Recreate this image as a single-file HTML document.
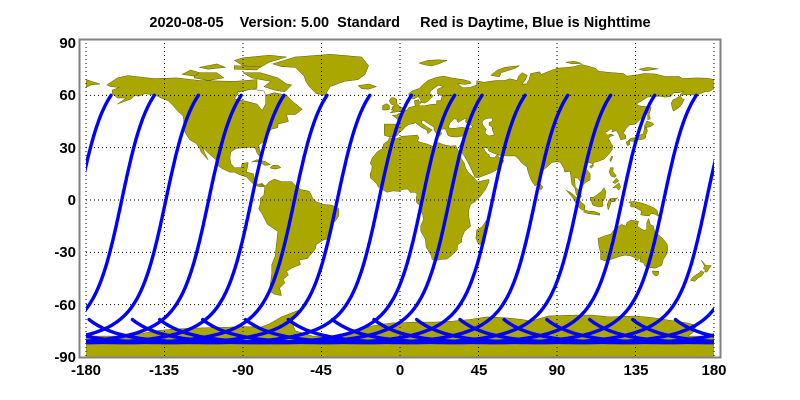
<!DOCTYPE html>
<html><head><meta charset="utf-8"><style>
html,body{margin:0;padding:0;background:#fff;}
svg{display:block;}
text{font-family:"Liberation Sans",Arial,sans-serif;font-weight:bold;fill:#000;}
</style></head><body>
<svg id="s" width="800" height="400" viewBox="0 0 800 400" xmlns="http://www.w3.org/2000/svg">
<defs><clipPath id="cp"><rect x="86" y="43" width="628" height="314"/></clipPath></defs>
<g id="land" clip-path="url(#cp)"></g>
<g id="grid"></g>
<g id="tracks" clip-path="url(#cp)"></g>
<rect x="79.5" y="39.5" width="641" height="318" fill="none" stroke="#808080" stroke-width="2"/>
<text x="400" y="27" font-size="14.5" text-anchor="middle" xml:space="preserve">2020-08-05    Version: 5.00  Standard     Red is Daytime, Blue is Nighttime</text>
<g font-size="15" text-anchor="end">
<text x="76" y="48">90</text><text x="76" y="100">60</text><text x="76" y="153">30</text><text x="76" y="205">0</text>
<text x="76" y="257">-30</text><text x="76" y="310">-60</text><text x="76" y="362">-90</text>
</g>
<g font-size="15" text-anchor="middle">
<text x="86" y="375">-180</text><text x="164" y="375">-135</text><text x="243" y="375">-90</text><text x="321" y="375">-45</text>
<text x="400" y="375">0</text><text x="479" y="375">45</text><text x="557" y="375">90</text><text x="636" y="375">135</text><text x="714" y="375">180</text>
</g>
</svg>
<script>
var K=1.7444;function X(l){return 400+l*K}function Y(a){return 200-a*K}
var P=[
[[-168,66],[-162,70],[-156,71.3],[-141,69.6],[-128,70],[-115,68.5],[-95,68],[-82,69],[-82,64],[-93,62],[-94,58],[-88,56.5],[-82,55],[-79,51.5],[-77,55],[-77,60],[-72,61.5],[-65,60],[-61,56],[-56,52],[-60,49],[-65,49],[-64,45],[-70,43.5],[-70,41.5],[-74,40.5],[-76,37],[-76,35],[-81,31.5],[-80,27],[-80.5,25],[-82,27],[-83,29.8],[-86,30.3],[-89,30],[-94,29.6],[-97,27.5],[-97.5,24],[-97,21],[-95,18.5],[-91,18.5],[-90.5,21],[-87,21.5],[-88,16],[-84,15],[-83.5,11],[-81.5,9],[-79,9.5],[-77.5,8],[-80,7.5],[-83,8.3],[-86,11],[-88,13.3],[-92,14.5],[-95,16],[-97.5,16],[-102,18],[-105.5,20.5],[-105.5,23],[-109,26],[-112.5,29.5],[-114.5,31.5],[-113,30],[-112,27],[-110,23],[-111,24],[-114,27.5],[-115,30],[-117,32.5],[-120.5,34.5],[-122.5,37.5],[-124,40.5],[-124,46],[-124.5,48.5],[-127,50.5],[-130,54],[-133,57],[-137,58.5],[-140,60],[-146,61],[-150,59.5],[-152,60],[-154,58],[-158,56.5],[-162,55],[-159,57],[-157,58.5],[-162,58.5],[-165,61],[-165,63],[-161,64.5],[-166,65]],
[[-73,78],[-60,82],[-40,83.5],[-22,82],[-18,77],[-20,72],[-24,69],[-32,68],[-40,65],[-43,60],[-48,61],[-52,65],[-54,68],[-55,71],[-60,76],[-68,76.5]],
[[-80,73],[-70,70],[-65,66.5],[-62,66],[-66,62],[-72,63],[-78,65],[-74,68],[-85,70],[-90,73]],
[[-118,73],[-105,73],[-101,70],[-110,68.5],[-118,70]],
[[-90,77],[-80,76],[-75,79],[-65,82],[-75,83],[-90,81.5],[-95,80]],
[[-125,72],[-120,74.5],[-115,73],[-118,71]],
[[-95,75],[-82,74.5],[-80,76.5],[-95,77]],
[[-115,76],[-105,78],[-100,76],[-110,75]],
[[-24,65.5],[-18,66.5],[-13.5,65],[-18,63.5],[-22,63.8]],
[[-80,9],[-77,8],[-75,10.5],[-72,12],[-68,10.5],[-62,10.5],[-60,8.5],[-57,6],[-52,5],[-50,1],[-48,-1],[-44,-2.5],[-39,-3],[-35,-5],[-35,-9],[-37,-12],[-39,-14],[-39,-18],[-41,-22],[-44,-23],[-48,-25.5],[-48.5,-28],[-50,-30],[-53,-33.5],[-58,-34.5],[-57,-37],[-62,-39],[-65,-41],[-64,-43],[-67,-45.5],[-66,-47.5],[-69,-50.5],[-68.5,-52.5],[-68,-54.8],[-72,-54],[-75,-52],[-74,-46],[-73.5,-42],[-73.5,-37],[-71.5,-32],[-71,-27],[-70,-18],[-76,-14],[-79,-8],[-81,-5],[-80,-2],[-80,1],[-78,3],[-77.5,7]],
[[-9,43.5],[-9,38.7],[-8.9,37],[-6,36.2],[-2,36.7],[0,38.8],[3.2,42],[5,43.3],[7.5,43.8],[9,44.3],[10.5,43],[12.5,41.5],[15.5,40],[16,38],[17,39],[18.5,40.2],[16,41.5],[12.5,44],[12.5,45.5],[13.7,45.6],[15,44.5],[19.5,41.8],[19.5,40],[21,38],[22.5,36.5],[24,38],[23,39.5],[22.8,40.5],[26,40.8],[26.3,40],[27.5,37],[28.5,36.6],[30.5,36.2],[33,36.2],[36,36.8],[36,35],[35,33],[34.5,31.5],[34,31],[34.8,29.5],[35,28],[37,25],[39,21.5],[41,17.5],[43,13],[45,12.8],[48,14],[52,15.5],[55,17],[57,18.8],[59.5,22.5],[58,24],[56.5,24.5],[56,26.2],[54,24.2],[51.5,24.5],[51,26],[50,26.5],[48.5,28.5],[48,30],[50,30],[51,28],[54,26.7],[57,25.7],[61,25.2],[66,25.3],[67.5,24],[70,21],[72.8,19],[73.5,16],[74.5,13],[76,10],[77.5,8],[78.2,8.9],[80,10.5],[80,15.5],[82,17],[85,19.5],[87,21.5],[90,22],[92,21.5],[94,18],[94.5,16],[97.5,16.5],[98,13],[98.5,9],[100.5,6.5],[101,3],[103.5,1.3],[104,2],[103,5],[100.5,7.5],[100,13],[102,12.5],[103.5,10.5],[105,8.7],[106.8,10.4],[109,11.5],[109,15],[106.5,18],[106,20],[108,21.5],[110,21],[110.5,20],[111,21.5],[114,22.3],[117,23.5],[119.5,26],[121.5,28.5],[122,31],[121,32.5],[120,34.5],[119.3,35],[120.7,36.5],[122.5,37],[121,37.8],[119,37.2],[118,38.2],[117.5,38.8],[119,39.3],[121,40.8],[122,40],[121.3,39],[124,39.8],[125.3,37.7],[126.5,34.5],[129.3,35.2],[129.5,37],[128,38.5],[129.7,41],[131.5,43],[135,43.5],[138,46.5],[140.5,48.5],[141,52],[141.5,53.5],[137,54],[135.5,55],[138,56.5],[142,59],[145,59.4],[149,59.5],[152,59],[155,59.3],[157,61.5],[160,61.5],[163,62.4],[160.5,60.5],[161.5,58.2],[163,57.6],[162,56],[161.7,55],[160,53],[158.5,52],[156.7,51],[156,53],[155.5,55.5],[156.5,57.5],[158,58],[161,60],[165,60.5],[170,60],[174,61.8],[178,62.5],[181,64.5],[181,68.9],[176,69.8],[170,70],[162,69.6],[160,70.8],[152,70.8],[146,72.3],[140,72.5],[135,71.6],[130,71],[128,72.5],[122,73],[114,73.7],[112,75.5],[108,76.7],[104,77.7],[100,76.5],[96,76],[90,75.5],[86,74],[81,72],[80,73.5],[75,72.5],[74,69],[72.5,66.5],[70,66.5],[72,69],[73,71.5],[70,73],[68,71],[67,68.5],[63,69.5],[60,68.5],[55,68.5],[48,67.5],[44,68.4],[44,66],[40,64.5],[36,64.3],[34.5,65.5],[33,66.8],[37,66.2],[41,67],[40,68],[36,69.1],[33,69.4],[29,70.1],[25,71],[20,70],[16,68.5],[13,66],[11,64],[7,62.5],[5,61],[5.5,58.5],[8,58],[10.5,59.3],[11.2,58.3],[12.5,56.2],[10.9,56.4],[10.5,57.6],[8.2,56.8],[8.6,55],[8.7,53.9],[7,53.4],[5,53],[4,51.6],[2,51],[1.5,50],[-1,49.5],[-1.5,48.7],[-4.5,48.6],[-2.5,47.3],[-1.2,46],[-1.5,43.5]],
[[-180,64.5],[-177,66],[-172,66.5],[-175,67.5],[-180,69]],
[[-5,50],[1.5,51.2],[1.7,52.7],[0,53.5],[-1.5,55],[-2,56],[-1.8,57.6],[-3.5,58.6],[-5,58.6],[-6.2,57],[-5.5,55.5],[-4.8,54.8],[-3,54],[-4.5,53.3],[-4.5,52],[-5.3,51.7],[-3.5,51.4],[-5.7,50]],
[[-6,52],[-6,54],[-7.5,55.2],[-10,54.2],[-10,51.6],[-8,51.6]],
[[-17,21],[-16,24],[-13,27.7],[-10,29.5],[-9.5,32],[-6.8,34],[-6,35.8],[-2,35.1],[1,36.5],[5,36.8],[10,37.2],[11,35.5],[10,34],[11.5,33.1],[15,32.3],[19.5,30.5],[20,32],[22,32.9],[25,31.7],[29,30.9],[32,31.2],[32.5,30],[33.5,28],[35,24],[37,21],[37.5,18.5],[39,16],[42.5,12.8],[43.3,11.7],[44.5,10.4],[51,11.8],[51,10.4],[49,6],[46,2],[43,-1],[40.5,-2.5],[39.3,-6],[39.5,-10],[40.5,-15],[37,-18],[35.3,-22],[35.5,-24],[33,-25.8],[32.8,-28.5],[30.5,-31],[27,-33.8],[24,-34],[20,-34.8],[18.4,-34],[18,-32],[15,-27],[14.5,-22.5],[12,-18],[11.8,-15],[13.5,-11],[13,-8.5],[12,-6],[12.3,-4],[9.5,-1.5],[9.3,1],[9.8,3.5],[8.5,4.5],[6,4.3],[4.5,6.3],[2,6.2],[-1,5],[-4,5.2],[-7.5,4.4],[-10,6],[-12.5,7.5],[-13.5,9.5],[-15,11],[-16.8,12.5],[-17.2,14.7],[-16.3,17],[-16,19.5]],
[[49.3,-12],[50.5,-15.5],[49.5,-17],[47.2,-25],[45,-25.5],[43.5,-22],[44,-17],[47,-15.5]],
[[80,9.8],[81.8,7.5],[81.3,6.2],[80,6.1],[79.8,8]],
[[130.9,34],[132.5,35.5],[136,35.7],[137,37],[139.5,38],[140,40.5],[140,41.5],[141.5,41.2],[141.8,39.5],[141,37.5],[140.8,35.7],[139.8,35],[138.5,34.7],[137,34.6],[135,33.5],[132,33.8]],
[[129.6,33.3],[131.5,34],[131.8,32],[130.6,31],[130,32]],
[[140,42],[141.5,45.3],[145,44],[145.5,43.3],[143.5,42],[141,41.5]],
[[142,46],[143.5,46.5],[142.8,49],[144,53],[143,54.3],[142,54],[142,51],[142,48]],
[[120.2,23],[121.5,25.2],[122,24.9],[120.8,22]],
[[108.7,19.3],[110.5,20.1],[111,19.6],[109.5,18.2]],
[[120,16],[120.6,18.5],[122.3,18.5],[122,16.5],[124,13.8],[123,13],[121,13.7],[120.6,14.5]],
[[122,7],[125.5,9.8],[126.5,7.3],[125.3,5.6],[124,7.2]],
[[122,10],[124,12.5],[125.5,11],[123.5,9.5]],
[[109,1.5],[110,-1.5],[110.5,-3],[114,-4],[116.5,-3.5],[116,-1],[117.5,1],[118,4.8],[117,7],[115.5,5],[113,3],[111,1.6]],
[[95.3,5.6],[98,4.2],[100.5,2],[103.7,-1],[106,-3],[105.8,-5.8],[104.5,-5.8],[102.3,-4],[100.5,-1.2],[98.7,1.7],[97,3.6]],
[[105.2,-6.8],[106,-5.9],[108.5,-6.4],[111,-6.5],[114.5,-7.7],[114.4,-8.7],[111,-8.2],[108,-7.8],[106.5,-7.4]],
[[119.5,-5.5],[120.5,-2.8],[121,-1],[123.2,-0.9],[124,0.5],[125,1.4],[124,1],[120.5,0.8],[119.8,0],[118.8,-2.6],[119.3,-5.4]],
[[131,-1.2],[134,-0.8],[138,-1.6],[141,-2.6],[145.5,-4.5],[147.5,-6],[147.8,-8],[150,-10.3],[146,-8.1],[144,-7.7],[143,-9],[141,-9.1],[138,-8.4],[138.5,-6.5],[134.5,-4],[132.5,-4],[132,-2.8],[133,-2.2],[131.3,-1.5]],
[[113.5,-22],[114,-26.5],[115,-30],[115,-34],[118,-35],[121.5,-33.9],[124,-33],[126,-32.3],[129,-31.6],[132,-32],[134.5,-33],[136,-34.8],[137.8,-33],[137.5,-35.5],[139.5,-35.8],[140.5,-38],[143.5,-38.8],[146.3,-39.1],[150,-37.5],[151,-34],[153,-31],[153.5,-28],[153,-25],[150.8,-22.5],[149,-20.5],[146,-18.5],[145.3,-15],[143.5,-14],[142.5,-10.7],[141.5,-13],[141.4,-16.5],[140.5,-17.6],[139,-17],[136,-15],[136.8,-12.2],[132.5,-11.5],[130,-13],[129.5,-15],[127,-14],[125,-15.5],[122.3,-17.5],[121,-19.5],[117,-20.7],[114.5,-21.8]],
[[144.6,-40.7],[148.3,-40.9],[148,-43],[146.5,-43.6],[145,-42.2]],
[[172.7,-34.5],[174.5,-36.5],[175.5,-37.5],[178.5,-37.7],[177,-39.5],[176,-41.3],[174.6,-41.3],[175,-40],[173.8,-39.2],[174.6,-38],[173,-35]],
[[172.7,-40.5],[174.3,-41.7],[173,-43.5],[171,-44.5],[169,-46.6],[166.5,-46],[168,-44],[171.5,-41.8]],
[[-85,21.8],[-82,23.1],[-77,22],[-74.2,20.2],[-77.7,19.9],[-80.5,21.8],[-84,21.9]],
[[-74.5,18.5],[-72.8,19.9],[-69.5,19.7],[-68.4,18.5],[-71.5,17.7],[-74.3,18.3]],
[[52,71.5],[56,74.5],[60,76],[68.5,77],[66,75.5],[58,73],[57,70.6]],
[[11,78.5],[16,80],[22,80.4],[27,80],[22,78],[18,76.8],[14,77.5]],
[[95,79],[100,79.5],[104,78.3],[99,78]],
[[137,75],[142,76],[148,75.2],[140,74]],
[[-180,-78],[-160,-78],[-150,-77],[-140,-75],[-130,-74],[-120,-73.5],[-100,-73],[-90,-72.5],[-80,-73],[-75,-71],[-68,-67],[-58,-63.2],[-60,-66],[-62,-70],[-60,-75],[-50,-78],[-40,-78],[-35,-77],[-25,-75],[-15,-72],[-5,-70.5],[10,-70],[20,-70],[30,-69.5],[40,-68.5],[50,-67],[60,-67.5],[70,-68.5],[75,-69.5],[85,-66.5],[100,-66],[110,-66],[120,-67],[135,-66.5],[145,-67.5],[155,-69],[165,-70.5],[170,-72],[168,-76],[165,-78],[181,-78],[181,-91],[-181,-91]]
];
var W=[
[[10.8,54],[14,54],[18,54.8],[21,55],[21,57],[23.5,57],[24,59.5],[30,60],[23,60],[21.5,61],[21.5,63.5],[25,65],[22,65.8],[17.5,62.5],[17,61],[19,59.8],[16.5,57],[14,55.5],[12.5,56],[10.8,54.5]],
[[28,41.3],[29,41.2],[31,41.1],[36,41.7],[38.5,40.9],[41.5,41.5],[41.5,42.5],[40,43.3],[37.5,44.7],[38,47],[35,45.5],[33.5,44.4],[32.5,45.4],[33.5,46],[31,46.6],[30,45.4],[28.7,44.3],[28,42.5]],
[[47,44.6],[47.5,45.5],[49,46.5],[51.5,47],[53,46.8],[53,45],[51,44.5],[51,43],[52.8,41.8],[53,40],[53.8,38.2],[54,37.3],[51,36.7],[49,38],[48.8,38.8],[49.5,40.5],[48.5,41.8],[47.5,43]],
[[-95,58],[-88,56.5],[-82,55],[-79,51.5],[-77,55],[-77,60],[-78,62.5],[-85,63.5],[-92,62]]
];
function pts(p){return p.map(function(q){return X(q[0]).toFixed(1)+','+Y(q[1]).toFixed(1)}).join(' ')}
var h='';P.forEach(function(p){h+='<polygon points="'+pts(p)+'" fill="#aaa800" stroke="#5a5a00" stroke-width="0.5"/>'});
W.forEach(function(p){h+='<polygon points="'+pts(p)+'" fill="#fff" stroke="#5a5a00" stroke-width="0.5"/>'});
document.getElementById('land').innerHTML=h;
var g='';for(var l=-180;l<=180;l+=45){g+='<line x1="'+X(l)+'" y1="43" x2="'+X(l)+'" y2="357" stroke="#000" stroke-width="1" stroke-dasharray="1,3"/>'}
for(var a=-60;a<=60;a+=30){g+='<line x1="86" y1="'+Y(a)+'" x2="714" y2="'+Y(a)+'" stroke="#000" stroke-width="1" stroke-dasharray="1,3"/>'}
document.getElementById('grid').innerHTML=g;
var tops=[154.3,198.4,241.2,284,327,369.8,411.4,454.7,482,525,567.8,610.6,654.7,696.3,739];
var ci=Math.cos(98.2*Math.PI/180),si=Math.sin(98.2*Math.PI/180),R=Math.PI/180;
var u0=Math.asin(0.866/si)/R;u0=180-u0;
function Lraw(u){return Math.atan2(ci*Math.sin(u*R),Math.cos(u*R))/R}
var t='';
tops.forEach(function(T){
 var lon0=(T-400)/K,prev=Lraw(u0),acc=0,arr=[];
 for(var u=u0;u<=290;u+=0.5){var L=Lraw(u),d=L-prev;if(d>180)d-=360;if(d<-180)d+=360;acc+=d;prev=L;
  var lat=Math.asin(si*Math.sin(u*R))/R;var lon=lon0+acc-0.06875*(u-u0);arr.push([lon,lat]);}
 [-720,-360,0,360].forEach(function(o){
  t+='<polyline fill="none" stroke="#0000ff" stroke-width="3.4" stroke-linecap="round" stroke-linejoin="round" points="'+arr.map(function(q){return X(q[0]+o).toFixed(1)+','+Y(q[1]).toFixed(1)}).join(' ')+'"/>';});
});
document.getElementById('tracks').innerHTML=t;
</script>
</body></html>
